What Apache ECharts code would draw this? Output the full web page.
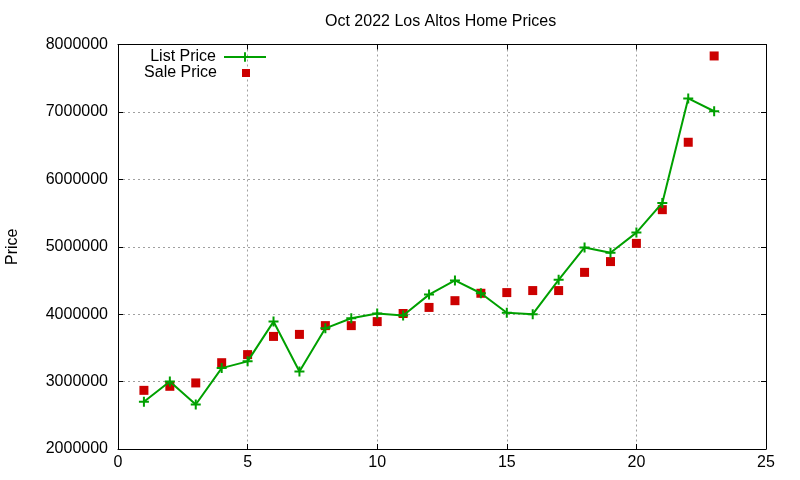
<!DOCTYPE html>
<html>
<head>
<meta charset="utf-8">
<script src="https://cdn.jsdelivr.net/npm/echarts@6/dist/echarts.min.js"></script>
<style>html,body{margin:0;padding:0;background:#fff}#c{width:800px;height:480px}</style>
</head>
<body>
<div id="c"></div>
<script>
var days = [1,2,3,4,5,6,7,8,9,10,11,12,13,14,15,16,17,18,19,20,21,22,23];
var listPrice = [2700000,3000000,2660000,3200000,3300000,3890000,3150000,3790000,3940000,4010000,3980000,4290000,4500000,4310000,4020000,4000000,4510000,4990000,4910000,5210000,5650000,7200000,7010000];
var salePrice = [2870000,2930000,2980000,3280000,3400000,3670000,3700000,3830000,3830000,3890000,4010000,4100000,4200000,4310000,4320000,4350000,4350000,4620000,4780000,5050000,5550000,6550000,7830000];
var xTicks = {min:0, max:25, interval:5};
var yTicks = {min:2000000, max:8000000, interval:1000000};

var FONT = 'Liberation Sans, Arial, sans-serif';
var GREEN = '#00a000', RED = '#cc0000';
var plusPath = 'path://M4,0H6V4H10V6H6V10H4V6H0V4H4Z';
var saleIcon = 'path://M0,0h0.01v0.01h-0.01z M42,12h-0.01v-0.01h0.01z M17,2h8v8h-8z';

function zip(xs, ys){ return xs.map(function(x,i){ return [x, ys[i]]; }); }

var chart = echarts.init(document.getElementById('c'), null, {renderer:'canvas'});
var gridLine = {show:true, lineStyle:{color:'#a0a0a0', width:1, type:[2,3]}};
var axisLine = {show:true, onZero:false, lineStyle:{color:'#000', width:1}};
var tick = {show:true, inside:true, length:5, lineStyle:{color:'#000', width:1}};
var legendText = {fontFamily:FONT, fontSize:16, color:'#000', padding:[0,3,0,0]};
chart.setOption({
  animation:false,
  backgroundColor:'#fff',
  textStyle:{fontFamily:FONT},
  title:{text:'Oct 2022 Los Altos Home Prices', left:325, top:14, padding:0,
    textStyle:{fontFamily:FONT, fontSize:16, fontWeight:'normal', color:'#000'}},
  legend:[
    {data:['List Price'], orient:'vertical', right:533, top:49, padding:0, align:'right',
     itemWidth:42, itemHeight:12, selectedMode:false, textStyle:legendText},
    {data:[{name:'Sale Price', icon:saleIcon}], orient:'vertical', right:533, top:65, padding:0, align:'right',
     itemWidth:42, itemHeight:12, selectedMode:false, textStyle:legendText}
  ],
  grid:{left:118, right:34, top:44.5, bottom:31, containLabel:false, outerBoundsMode:'none'},
  xAxis:[
    {type:'value', position:'bottom', min:xTicks.min, max:xTicks.max, interval:xTicks.interval,
     axisLine:axisLine, axisTick:tick, splitLine:gridLine,
     axisLabel:{fontFamily:FONT, fontSize:16, color:'#000', margin:6}},
    {type:'value', position:'top', min:xTicks.min, max:xTicks.max, interval:xTicks.interval,
     axisLine:axisLine, axisTick:tick, splitLine:{show:false}, axisLabel:{show:false}}
  ],
  yAxis:[
    {type:'value', position:'left', min:yTicks.min, max:yTicks.max, interval:yTicks.interval,
     name:'Price', nameLocation:'middle', nameGap:97, nameRotate:90,
     nameTextStyle:{fontFamily:FONT, fontSize:16, color:'#000'},
     axisLine:axisLine, axisTick:tick, splitLine:gridLine,
     axisLabel:{fontFamily:FONT, fontSize:16, color:'#000', margin:10, formatter:function(v){return String(v);}}},
    {type:'value', position:'right', min:yTicks.min, max:yTicks.max, interval:yTicks.interval,
     axisLine:axisLine, axisTick:tick, splitLine:{show:false}, axisLabel:{show:false}}
  ],
  series:[
    {name:'List Price', type:'line', xAxisIndex:0, yAxisIndex:0, data:zip(days, listPrice),
     symbol:plusPath, symbolSize:10, showSymbol:true, showAllSymbol:true,
     lineStyle:{color:GREEN, width:2}, itemStyle:{color:GREEN, opacity:1}},
    {name:'Sale Price', type:'scatter', xAxisIndex:0, yAxisIndex:0, data:zip(days, salePrice),
     symbol:'rect', symbolSize:9, itemStyle:{color:RED, opacity:1}}
  ]
});
</script>
</body>
</html>
